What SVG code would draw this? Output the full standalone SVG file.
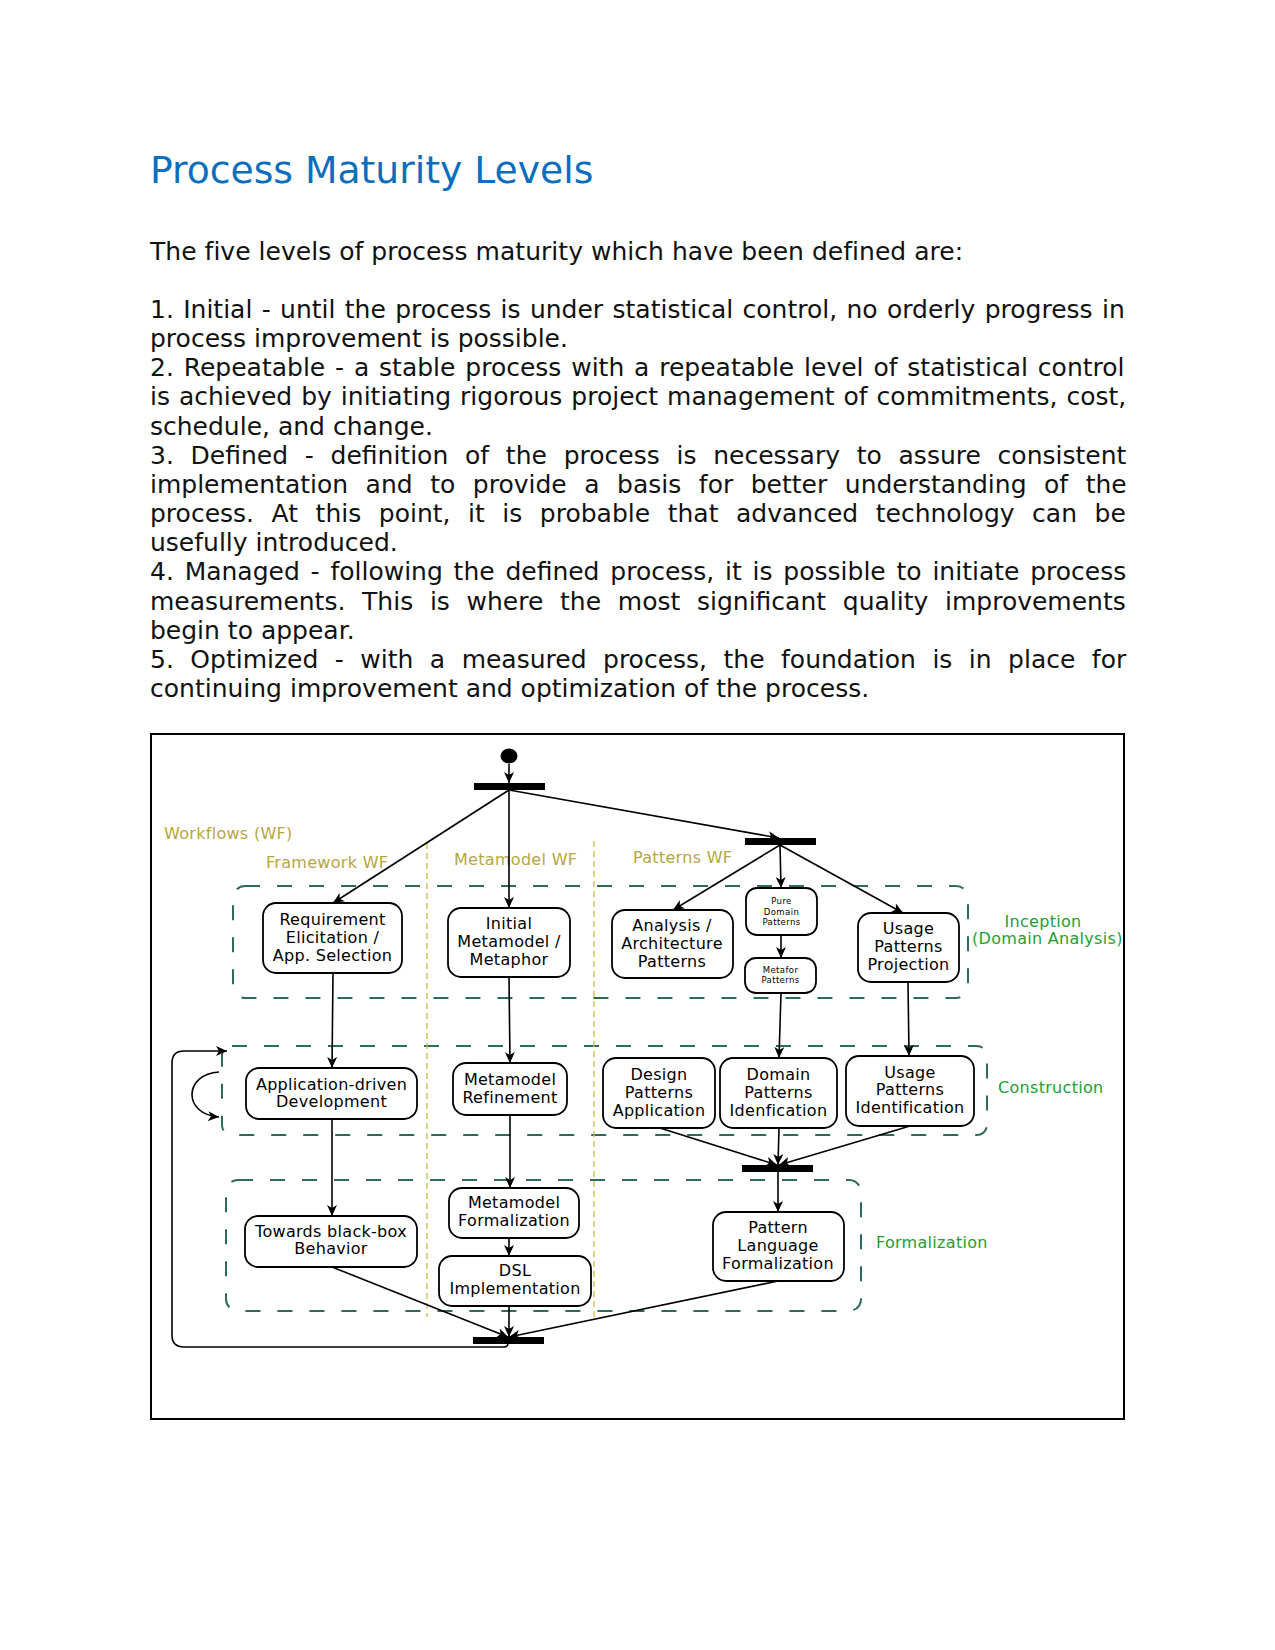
<svg xmlns="http://www.w3.org/2000/svg" width="1275" height="1650" viewBox="0 0 1275 1650">
<style>
.title{font-family:"DejaVu Sans",sans-serif;font-size:37.7px;fill:#0A6EBD}
.body{font-family:"DejaVu Sans",sans-serif;font-size:25px;fill:#111}
.box{fill:#fff;stroke:#000;stroke-width:1.8}
.t{font-family:"DejaVu Sans",sans-serif;font-size:16px;letter-spacing:0.3px;text-anchor:middle;fill:#000}
.s{font-family:"DejaVu Sans",sans-serif;font-size:8.5px;letter-spacing:0.4px;text-anchor:middle;fill:#000}
.ol{font-family:"DejaVu Sans",sans-serif;font-size:16px;letter-spacing:0.3px;fill:#B5A642}
.gr{font-family:"DejaVu Sans",sans-serif;font-size:16px;letter-spacing:0.3px;fill:#22A032}
.phase{fill:none;stroke:#2E6B55;stroke-width:2;stroke-dasharray:15 17}
.lane{stroke:#C8BE3C;stroke-width:1.3;stroke-dasharray:6 4}
.c{fill:none;stroke:#000;stroke-width:1.6;marker-end:url(#ah)}
.bar{fill:#000}
</style>
<defs>
<marker id="ah" markerUnits="userSpaceOnUse" markerWidth="12" markerHeight="10" refX="11" refY="5" orient="auto">
<path d="M0,0 L11,5 L0,10 L3,5 Z" fill="#000"/>
</marker>
</defs>
<rect width="1275" height="1650" fill="#fff"/>
<text class="title" x="150" y="183">Process Maturity Levels</text>
<g id="body-text">
<text class="body" x="150" y="260" letter-spacing="0.03">The five levels of process maturity which have been defined are:</text>
<text class="body" x="150" y="318" word-spacing="1.4">1. Initial - until the process is under statistical control, no orderly progress in</text>
<text class="body" x="150" y="347.15">process improvement is possible.</text>
<text class="body" x="150" y="376.3" word-spacing="1.9">2. Repeatable - a stable process with a repeatable level of statistical control</text>
<text class="body" x="150" y="405.45" word-spacing="1.03">is achieved by initiating rigorous project management of commitments, cost,</text>
<text class="body" x="150" y="434.6">schedule, and change.</text>
<text class="body" x="150" y="463.75" word-spacing="8.8">3. Defined - definition of the process is necessary to assure consistent</text>
<text class="body" x="150" y="492.9" word-spacing="9.59">implementation and to provide a basis for better understanding of the</text>
<text class="body" x="150" y="522.05" word-spacing="9.61">process. At this point, it is probable that advanced technology can be</text>
<text class="body" x="150" y="551.2">usefully introduced.</text>
<text class="body" x="150" y="580.35" word-spacing="2.84">4. Managed - following the defined process, it is possible to initiate process</text>
<text class="body" x="150" y="609.5" word-spacing="8.76">measurements. This is where the most significant quality improvements</text>
<text class="body" x="150" y="638.65">begin to appear.</text>
<text class="body" x="150" y="667.8" word-spacing="8.54">5. Optimized - with a measured process, the foundation is in place for</text>
<text class="body" x="150" y="696.95">continuing improvement and optimization of the process.</text>
</g>
<rect x="151" y="734" width="973" height="685" fill="none" stroke="#000" stroke-width="2"/>
<g id="phases">
<rect class="phase" x="233" y="886" width="735" height="112" rx="12"/>
<rect class="phase" x="222" y="1046" width="765" height="89" rx="10"/>
<rect class="phase" x="226" y="1180" width="635" height="131" rx="12"/>
</g>
<g id="lanes">
<line class="lane" x1="427" y1="843" x2="427" y2="1317"/>
<line class="lane" x1="594" y1="841" x2="594" y2="1317"/>
</g>
<g id="labels">
<text class="ol" x="164" y="839">Workflows (WF)</text>
<text class="ol" x="266" y="868">Framework WF</text>
<text class="ol" x="454" y="865">Metamodel WF</text>
<text class="ol" x="633" y="863">Patterns WF</text>
<text class="gr" x="1043" y="927" text-anchor="middle">Inception</text>
<text class="gr" x="972" y="944">(Domain Analysis)</text>
<text class="gr" x="998" y="1093">Construction</text>
<text class="gr" x="876" y="1248">Formalization</text>
</g>
<g id="connectors">
<path class="c" d="M509,764 V783"/>
<path class="c" d="M509,790 L333,903"/>
<path class="c" d="M509,790 V908"/>
<path class="c" d="M509,790 L779,838"/>
<path class="c" d="M780,845 L673,910"/>
<path class="c" d="M780,845 L781,888"/>
<path class="c" d="M780,845 L903,913"/>
<path class="c" d="M781,935 V958"/>
<path class="c" d="M333,973 L332,1068"/>
<path class="c" d="M509,977 L510,1063"/>
<path class="c" d="M781,993 L779,1058"/>
<path class="c" d="M908,982 L909,1056"/>
<path class="c" d="M219,1072 C184,1074 182,1114 219,1117"/>
<path class="c" d="M508,1343 V1343 Q508,1347 504,1347 H184 Q172,1347 172,1335 V1063 Q172,1051 184,1051 H227"/>
<path class="c" d="M332,1119 V1216"/>
<path class="c" d="M510,1115 V1188"/>
<path class="c" d="M509,1238 V1256"/>
<path class="c" d="M660,1128 L777,1165"/>
<path class="c" d="M779,1128 L778,1165"/>
<path class="c" d="M910,1126 L779,1165"/>
<path class="c" d="M778,1172 V1212"/>
<path class="c" d="M332,1267 L508,1337"/>
<path class="c" d="M509,1306 V1337"/>
<path class="c" d="M778,1281 L509,1337"/>
</g>
<g id="start"><ellipse cx="509" cy="756" rx="8.5" ry="7.5" fill="#000"/></g>
<g id="fork1"><rect class="bar" x="474" y="783" width="71" height="7"/></g>
<g id="fork2"><rect class="bar" x="745" y="838" width="71" height="7"/></g>
<g id="join1"><rect class="bar" x="742" y="1165" width="71" height="7"/></g>
<g id="join2"><rect class="bar" x="473" y="1337" width="71" height="7"/></g>
<g id="requirement">
<rect class="box" x="263" y="903" width="139" height="70" rx="13"/>
<text class="t" x="332.5" y="925">Requirement</text>
<text class="t" x="332.5" y="943">Elicitation /</text>
<text class="t" x="332.5" y="961">App. Selection</text>
</g>
<g id="initial-metamodel">
<rect class="box" x="448" y="908" width="122" height="69" rx="13"/>
<text class="t" x="509" y="929">Initial</text>
<text class="t" x="509" y="947">Metamodel /</text>
<text class="t" x="509" y="965">Metaphor</text>
</g>
<g id="analysis">
<rect class="box" x="612" y="910" width="121" height="68" rx="13"/>
<text class="t" x="672" y="931">Analysis /</text>
<text class="t" x="672" y="949">Architecture</text>
<text class="t" x="672" y="967">Patterns</text>
</g>
<g id="pure-domain">
<rect class="box" x="746" y="888" width="71" height="47" rx="11"/>
<text class="s" x="781.5" y="904">Pure</text>
<text class="s" x="781.5" y="915">Domain</text>
<text class="s" x="781.5" y="925">Patterns</text>
</g>
<g id="metafor">
<rect class="box" x="745" y="958" width="71" height="35" rx="11"/>
<text class="s" x="780.5" y="973">Metafor</text>
<text class="s" x="780.5" y="983">Patterns</text>
</g>
<g id="usage-projection">
<rect class="box" x="858" y="913" width="101" height="69" rx="13"/>
<text class="t" x="908.5" y="934">Usage</text>
<text class="t" x="908.5" y="952">Patterns</text>
<text class="t" x="908.5" y="970">Projection</text>
</g>
<g id="app-driven">
<rect class="box" x="246" y="1068" width="171" height="51" rx="13"/>
<text class="t" x="331.5" y="1090">Application-driven</text>
<text class="t" x="331.5" y="1107">Development</text>
</g>
<g id="metamodel-refinement">
<rect class="box" x="453" y="1063" width="114" height="52" rx="13"/>
<text class="t" x="510" y="1085">Metamodel</text>
<text class="t" x="510" y="1103">Refinement</text>
</g>
<g id="design-patterns">
<rect class="box" x="603" y="1058" width="112" height="70" rx="13"/>
<text class="t" x="659" y="1080">Design</text>
<text class="t" x="659" y="1098">Patterns</text>
<text class="t" x="659" y="1116">Application</text>
</g>
<g id="domain-patterns">
<rect class="box" x="720" y="1058" width="117" height="70" rx="13"/>
<text class="t" x="778.5" y="1080">Domain</text>
<text class="t" x="778.5" y="1098">Patterns</text>
<text class="t" x="778.5" y="1116">Idenfication</text>
</g>
<g id="usage-identification">
<rect class="box" x="846" y="1056" width="128" height="70" rx="13"/>
<text class="t" x="910" y="1078">Usage</text>
<text class="t" x="910" y="1095">Patterns</text>
<text class="t" x="910" y="1113">Identification</text>
</g>
<g id="towards-blackbox">
<rect class="box" x="245" y="1216" width="172" height="51" rx="13"/>
<text class="t" x="331" y="1237">Towards black-box</text>
<text class="t" x="331" y="1254">Behavior</text>
</g>
<g id="metamodel-formalization">
<rect class="box" x="449" y="1188" width="130" height="50" rx="13"/>
<text class="t" x="514" y="1208">Metamodel</text>
<text class="t" x="514" y="1226">Formalization</text>
</g>
<g id="dsl-implementation">
<rect class="box" x="439" y="1256" width="152" height="50" rx="13"/>
<text class="t" x="515" y="1276">DSL</text>
<text class="t" x="515" y="1294">Implementation</text>
</g>
<g id="pattern-language">
<rect class="box" x="713" y="1212" width="131" height="69" rx="13"/>
<text class="t" x="778" y="1233">Pattern</text>
<text class="t" x="778" y="1251">Language</text>
<text class="t" x="778" y="1269">Formalization</text>
</g>
</svg>
